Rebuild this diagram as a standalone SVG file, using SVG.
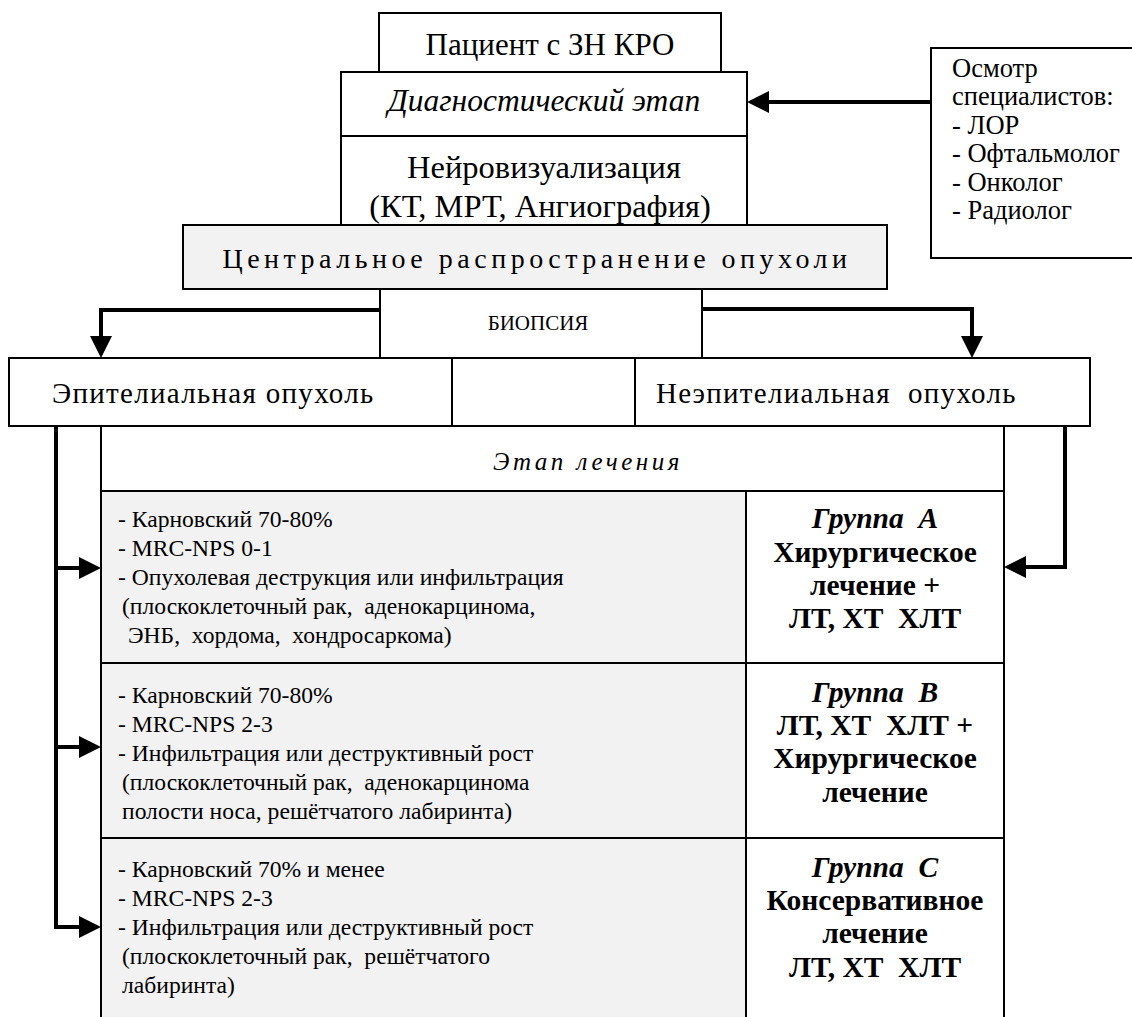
<svg xmlns="http://www.w3.org/2000/svg" width="1132" height="1017" viewBox="0 0 1132 1017">
<style>
  text { font-family: "Liberation Serif", "Times New Roman", serif; fill: #000; }
  .box { fill: #fff; stroke: #000; stroke-width: 2; }
  .gray { fill: #f2f2f2; stroke: #000; stroke-width: 2; }
  .c { text-anchor: middle; }
  .top { font-size: 31px; }
  .neuro { font-size: 32.5px; }
  .tum { font-size: 29px; letter-spacing: 1.3px; }
  .osm { font-size: 26.5px; }
  .row { font-size: 23.6px; }
  .grp { font-size: 29.5px; font-weight: bold; text-anchor: middle; }
  .gi { font-style: italic; }
  .conn { fill: none; stroke: #000; stroke-width: 4; }
</style>
<defs>
  <marker id="arr" markerUnits="userSpaceOnUse" markerWidth="24" markerHeight="24" refX="10" refY="11" orient="auto">
    <path d="M0,0 L22,11 L0,22 Z" fill="#000"/>
  </marker>
</defs>

<g id="patient">
  <rect class="box" x="379" y="13" width="342" height="59"/>
  <text class="top c" x="550" y="55">Пациент с ЗН КРО</text>
</g>
<g id="diag">
  <rect class="box" x="341" y="72" width="406" height="64"/>
  <text class="c" font-size="31.5" x="544" y="111" font-style="italic">Диагностический этап</text>
</g>
<g id="neuro">
  <rect class="box" x="341" y="136" width="406" height="89"/>
  <text class="neuro c" x="544" y="178">Нейровизуализация</text>
  <text class="neuro c" x="540" y="217">(КТ, МРТ, Ангиография)</text>
</g>
<g id="central">
  <rect class="gray" x="183" y="225" width="704" height="64"/>
  <text class="c" font-size="28" x="537" y="268" letter-spacing="4.5">Центральное распространение опухоли</text>
</g>
<g id="osmotr">
  <rect class="box" x="931" y="48" width="210" height="210"/>
  <text class="osm" x="952" y="77">Осмотр</text>
  <text class="osm" x="952" y="105">специалистов:</text>
  <text class="osm" x="952" y="134">- ЛОР</text>
  <text class="osm" x="952" y="162">- Офтальмолог</text>
  <text class="osm" x="952" y="191">- Онколог</text>
  <text class="osm" x="952" y="219">- Радиолог</text>
</g>
<g id="biopsy">
  <rect class="box" x="380" y="289" width="322" height="69"/>
  <text class="c" font-size="21" x="538" y="330">БИОПСИЯ</text>
</g>
<g id="epithelial">
  <rect class="box" x="9" y="358" width="443" height="68"/>
  <text class="tum" x="52" y="403">Эпителиальная опухоль</text>
</g>
<g id="middle">
  <rect class="box" x="452" y="358" width="183" height="68"/>
</g>
<g id="nonepithelial">
  <rect class="box" x="635" y="358" width="455" height="68"/>
  <text class="tum" x="656" y="403" xml:space="preserve">Неэпителиальная  опухоль</text>
</g>
<g id="treatment">
  <rect class="box" x="101" y="426" width="903" height="65"/>
  <text class="c" font-size="25" x="588" y="470" font-style="italic" letter-spacing="3.5">Этап лечения</text>
</g>
<g id="rowA">
  <rect class="gray" x="101" y="491" width="645" height="172"/>
  <text class="row" x="118" y="527">- Карновский 70-80%</text>
  <text class="row" x="118" y="556">- MRC-NPS 0-1</text>
  <text class="row" x="118" y="585">- Опухолевая деструкция или инфильтрация</text>
  <text class="row" x="122" y="614" xml:space="preserve">(плоскоклеточный рак,  аденокарцинома,</text>
  <text class="row" x="128" y="643" xml:space="preserve">ЭНБ,  хордома,  хондросаркома)</text>
</g>
<g id="groupA">
  <rect class="box" x="746" y="491" width="258" height="172"/>
  <text class="grp gi" x="875" y="528" xml:space="preserve">Группа  A</text>
  <text class="grp" x="875" y="562">Хирургическое</text>
  <text class="grp" x="875" y="595">лечение +</text>
  <text class="grp" x="875" y="628" xml:space="preserve">ЛТ, ХТ  ХЛТ</text>
</g>
<g id="rowB">
  <rect class="gray" x="101" y="663" width="645" height="175"/>
  <text class="row" x="118" y="703">- Карновский 70-80%</text>
  <text class="row" x="118" y="732">- MRC-NPS 2-3</text>
  <text class="row" x="118" y="761">- Инфильтрация или деструктивный рост</text>
  <text class="row" x="122" y="790" xml:space="preserve">(плоскоклеточный рак,  аденокарцинома</text>
  <text class="row" x="122" y="819">полости носа, решётчатого лабиринта)</text>
</g>
<g id="groupB">
  <rect class="box" x="746" y="663" width="258" height="175"/>
  <text class="grp gi" x="875" y="702" xml:space="preserve">Группа  B</text>
  <text class="grp" x="875" y="735" xml:space="preserve">ЛТ, ХТ  ХЛТ +</text>
  <text class="grp" x="875" y="768">Хирургическое</text>
  <text class="grp" x="875" y="802">лечение</text>
</g>
<g id="rowC">
  <rect class="gray" x="101" y="838" width="645" height="190"/>
  <text class="row" x="118" y="877">- Карновский 70% и менее</text>
  <text class="row" x="118" y="906">- MRC-NPS 2-3</text>
  <text class="row" x="118" y="935">- Инфильтрация или деструктивный рост</text>
  <text class="row" x="122" y="964" xml:space="preserve">(плоскоклеточный рак,  решётчатого</text>
  <text class="row" x="122" y="993">лабиринта)</text>
</g>
<g id="groupC">
  <rect class="box" x="746" y="838" width="258" height="190"/>
  <text class="grp gi" x="875" y="877" xml:space="preserve">Группа  C</text>
  <text class="grp" x="875" y="910">Консервативное</text>
  <text class="grp" x="875" y="943">лечение</text>
  <text class="grp" x="875" y="977" xml:space="preserve">ЛТ, ХТ  ХЛТ</text>
</g>

<g id="connectors">
  <path class="conn" d="M931,102 H759" marker-end="url(#arr)"/>
  <path class="conn" d="M380,310 H101 V346" marker-end="url(#arr)"/>
  <path class="conn" d="M702,309 H972 V346" marker-end="url(#arr)"/>
  <path class="conn" d="M56,426 V927 H89" marker-end="url(#arr)"/>
  <path class="conn" d="M56,568 H89" marker-end="url(#arr)"/>
  <path class="conn" d="M56,747 H89" marker-end="url(#arr)"/>
  <path class="conn" d="M1065,426 V567 H1016" marker-end="url(#arr)"/>
</g>
</svg>
